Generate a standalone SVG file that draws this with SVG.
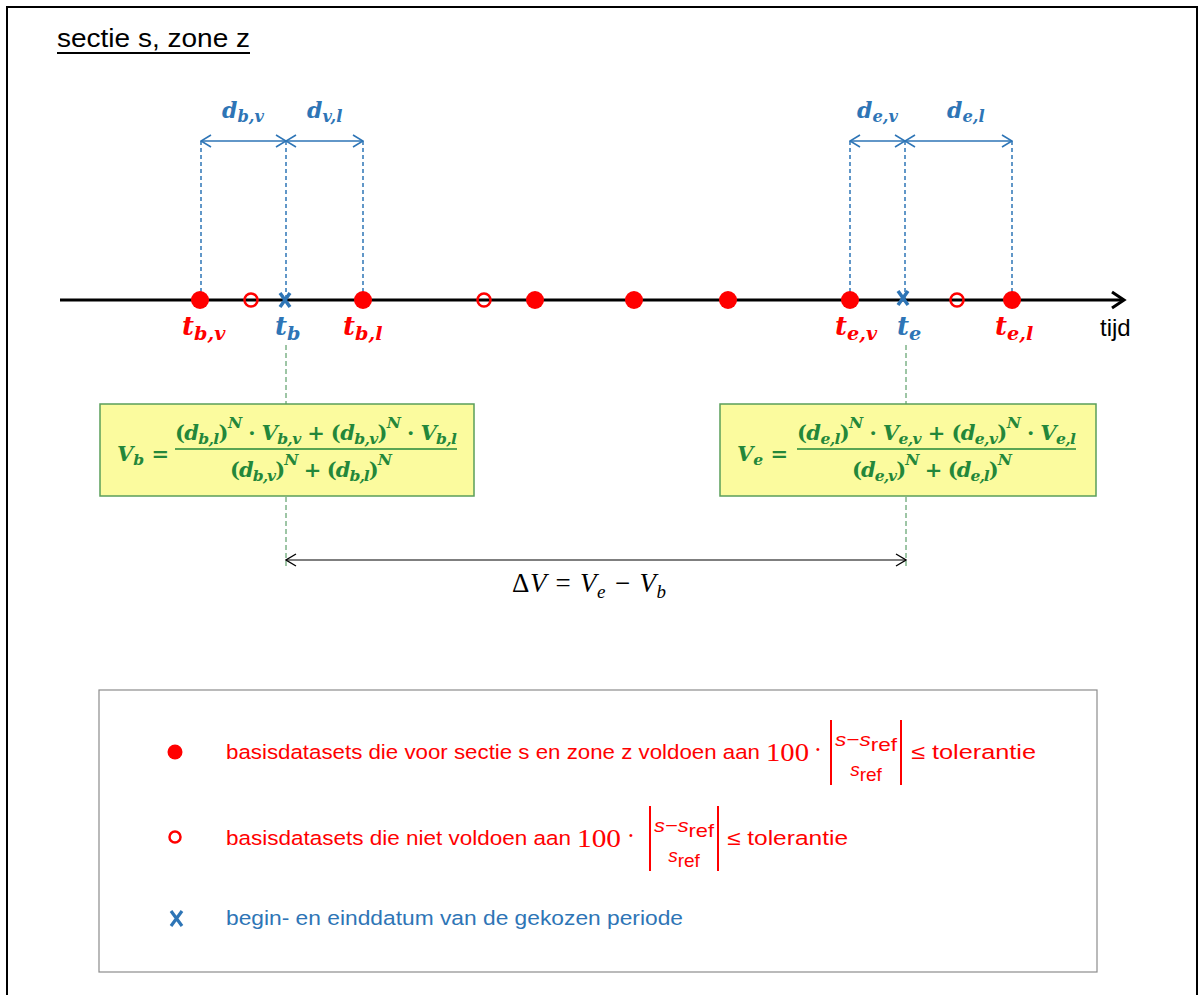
<svg xmlns="http://www.w3.org/2000/svg" width="1201" height="995" viewBox="0 0 1201 995">
<style>
.m{font-family:"DejaVu Serif","Liberation Serif",serif;font-style:italic;font-weight:bold}
.u{font-style:normal}
.s{font-size:0.74em}
.blue{fill:#2e75b6}
.red{fill:#ff0000}
.grn{fill:#23873a}
.sans{font-family:"Liberation Sans","Open Sans",sans-serif}
.num{font-family:"Liberation Serif","DejaVu Serif",serif}
.dashb{stroke:#2e75b6;stroke-width:1.5;stroke-dasharray:4 3;fill:none}
.dashg{stroke:#3c8c4c;stroke-width:1;stroke-dasharray:5 3;fill:none}
.dot{fill:#ff0000}
.ring{fill:none;stroke:#ff0000;stroke-width:2.5}
.xm{stroke:#2e75b6;stroke-width:3.5;stroke-linecap:butt}
.box{fill:#fbfb9e;stroke:#5a9e5a;stroke-width:1.5}
.bar{stroke:#ff0000;stroke-width:2}
</style>
<defs>
<marker id="ab" viewBox="0 0 12 14" refX="11" refY="7" markerWidth="12" markerHeight="14" markerUnits="userSpaceOnUse" orient="auto-start-reverse">
<path d="M1,1 L11,7 L1,13" fill="none" stroke="#2e75b6" stroke-width="1.6"/>
</marker>
<marker id="ak" viewBox="0 0 12 14" refX="11" refY="7" markerWidth="12" markerHeight="14" markerUnits="userSpaceOnUse" orient="auto-start-reverse">
<path d="M1,1 L11,7 L1,13" fill="none" stroke="#000" stroke-width="1.3"/>
</marker>
</defs>
<rect x="0" y="0" width="1201" height="995" fill="#fff"/>
<rect x="7" y="7" width="1190" height="1010" fill="none" stroke="#000" stroke-width="2"/>

<g id="title">
<text x="57" y="47" class="sans" font-size="26" fill="#000" textLength="193" lengthAdjust="spacingAndGlyphs">sectie s, zone z</text>
<line x1="57" y1="53" x2="250" y2="53" stroke="#000" stroke-width="2.2"/>
</g>

<g id="connectors">
<line class="dashb" x1="201" y1="141" x2="201" y2="300"/>
<line class="dashb" x1="286" y1="141" x2="286" y2="300"/>
<line class="dashb" x1="363" y1="141" x2="363" y2="300"/>
<line class="dashb" x1="850" y1="141" x2="850" y2="300"/>
<line class="dashb" x1="905" y1="141" x2="905" y2="300"/>
<line class="dashb" x1="1012" y1="141" x2="1012" y2="300"/>
<line x1="201" y1="141" x2="286" y2="141" stroke="#2e75b6" stroke-width="1.5" marker-start="url(#ab)" marker-end="url(#ab)"/>
<line x1="286" y1="141" x2="363" y2="141" stroke="#2e75b6" stroke-width="1.5" marker-start="url(#ab)" marker-end="url(#ab)"/>
<line x1="850" y1="141" x2="905" y2="141" stroke="#2e75b6" stroke-width="1.5" marker-start="url(#ab)" marker-end="url(#ab)"/>
<line x1="905" y1="141" x2="1012" y2="141" stroke="#2e75b6" stroke-width="1.5" marker-start="url(#ab)" marker-end="url(#ab)"/>
<line class="dashg" x1="286" y1="345" x2="286" y2="568"/>
<line class="dashg" x1="906" y1="345" x2="906" y2="568"/>
<line x1="286" y1="560" x2="906" y2="560" stroke="#000" stroke-width="1.2" marker-start="url(#ak)" marker-end="url(#ak)"/>
<line x1="60" y1="300" x2="1123" y2="300" stroke="#000" stroke-width="3"/>
<path d="M1112,292 L1124,300 L1112,308" fill="none" stroke="#000" stroke-width="3"/>
</g>

<g id="dim-labels">
<text class="m blue" x="222" y="118" font-size="22">d<tspan class="s" dy="4">b,v</tspan></text>
<text class="m blue" x="307" y="118" font-size="22">d<tspan class="s" dy="4">v,l</tspan></text>
<text class="m blue" x="857" y="118" font-size="22">d<tspan class="s" dy="4">e,v</tspan></text>
<text class="m blue" x="947" y="118" font-size="22">d<tspan class="s" dy="4">e,l</tspan></text>
</g>

<g id="points">
<circle class="dot" cx="200" cy="300" r="9"/>
<circle class="ring" cx="251" cy="300" r="6.5"/>
<path class="xm" d="M280,293 L290,307 M290,293 L280,307"/>
<circle class="dot" cx="363" cy="300" r="9"/>
<circle class="ring" cx="484" cy="300" r="6.5"/>
<circle class="dot" cx="535" cy="300" r="9"/>
<circle class="dot" cx="634" cy="300" r="9"/>
<circle class="dot" cx="728" cy="300" r="9"/>
<circle class="dot" cx="850" cy="300" r="9"/>
<path class="xm" d="M898,291 L908,305 M908,291 L898,305"/>
<circle class="ring" cx="957" cy="300" r="6.5"/>
<circle class="dot" cx="1012" cy="300" r="9"/>
</g>

<g id="axis-labels">
<text class="m red" x="182" y="335" font-size="26">t<tspan class="s" dy="5">b,v</tspan></text>
<text class="m blue" x="275" y="335" font-size="26">t<tspan class="s" dy="5">b</tspan></text>
<text class="m red" x="343" y="335" font-size="26">t<tspan class="s" dy="5">b,l</tspan></text>
<text class="m red" x="835" y="335" font-size="26">t<tspan class="s" dy="5">e,v</tspan></text>
<text class="m blue" x="897" y="335" font-size="26">t<tspan class="s" dy="5">e</tspan></text>
<text class="m red" x="995" y="335" font-size="26">t<tspan class="s" dy="5">e,l</tspan></text>
<text class="sans" x="1100" y="336" font-size="24" fill="#000">tijd</text>
</g>

<g id="formula-b">
<rect class="box" x="100" y="404" width="374" height="92"/>
<text class="m grn" x="117" y="461" font-size="21">V<tspan class="s" dy="4">b</tspan><tspan class="u" dy="-4"> =</tspan></text>
<text class="m grn" x="175" y="440" font-size="21" textLength="282" lengthAdjust="spacing"><tspan class="u">(</tspan>d<tspan class="s" dy="4">b,l</tspan><tspan class="u" dy="-4">)</tspan><tspan class="s" dy="-12">N</tspan><tspan class="u" dy="12"> · </tspan>V<tspan class="s" dy="4">b,v</tspan><tspan class="u" dy="-4"> + (</tspan>d<tspan class="s" dy="4">b,v</tspan><tspan class="u" dy="-4">)</tspan><tspan class="s" dy="-12">N</tspan><tspan class="u" dy="12"> · </tspan>V<tspan class="s" dy="4">b,l</tspan></text>
<line x1="175" y1="449" x2="457" y2="449" stroke="#23873a" stroke-width="1.5"/>
<text class="m grn" x="230" y="477" font-size="21" textLength="162" lengthAdjust="spacing"><tspan class="u">(</tspan>d<tspan class="s" dy="4">b,v</tspan><tspan class="u" dy="-4">)</tspan><tspan class="s" dy="-12">N</tspan><tspan class="u" dy="12"> + (</tspan>d<tspan class="s" dy="4">b,l</tspan><tspan class="u" dy="-4">)</tspan><tspan class="s" dy="-12">N</tspan></text>
</g>

<g id="formula-e">
<rect class="box" x="720" y="404" width="376" height="92"/>
<text class="m grn" x="737" y="461" font-size="21">V<tspan class="s" dy="4">e</tspan><tspan class="u" dy="-4"> =</tspan></text>
<text class="m grn" x="797" y="440" font-size="21" textLength="279" lengthAdjust="spacing"><tspan class="u">(</tspan>d<tspan class="s" dy="4">e,l</tspan><tspan class="u" dy="-4">)</tspan><tspan class="s" dy="-12">N</tspan><tspan class="u" dy="12"> · </tspan>V<tspan class="s" dy="4">e,v</tspan><tspan class="u" dy="-4"> + (</tspan>d<tspan class="s" dy="4">e,v</tspan><tspan class="u" dy="-4">)</tspan><tspan class="s" dy="-12">N</tspan><tspan class="u" dy="12"> · </tspan>V<tspan class="s" dy="4">e,l</tspan></text>
<line x1="797" y1="449" x2="1076" y2="449" stroke="#23873a" stroke-width="1.5"/>
<text class="m grn" x="852" y="477" font-size="21" textLength="160" lengthAdjust="spacing"><tspan class="u">(</tspan>d<tspan class="s" dy="4">e,v</tspan><tspan class="u" dy="-4">)</tspan><tspan class="s" dy="-12">N</tspan><tspan class="u" dy="12"> + (</tspan>d<tspan class="s" dy="4">e,l</tspan><tspan class="u" dy="-4">)</tspan><tspan class="s" dy="-12">N</tspan></text>
</g>

<g id="delta-v">
<text x="512" y="592" font-family="Liberation Serif, serif" font-style="italic" font-size="27" fill="#000" textLength="154" lengthAdjust="spacing"><tspan font-style="normal">Δ</tspan>V = V<tspan font-size="19" dy="6">e</tspan><tspan dy="-6"> − V</tspan><tspan font-size="19" dy="6">b</tspan></text>
</g>

<g id="legend">
<rect x="99" y="690" width="998" height="282" fill="none" stroke="#8c8c8c" stroke-width="1.2"/>
<circle cx="175" cy="752" r="7.5" fill="#ff0000"/>
<text class="sans red" x="226" y="759" font-size="20.5" textLength="534" lengthAdjust="spacingAndGlyphs">basisdatasets die voor sectie s en  zone z voldoen aan</text>
<text class="num red" x="766" y="761" font-size="25" textLength="43" lengthAdjust="spacingAndGlyphs">100</text>
<text class="num red" x="818" y="758" font-size="25" text-anchor="middle">·</text>
<line class="bar" x1="831" y1="720" x2="831" y2="785"/>
<line class="bar" x1="901" y1="720" x2="901" y2="785"/>
<text class="sans red" x="866" y="746" font-size="19" text-anchor="middle" textLength="62" lengthAdjust="spacingAndGlyphs"><tspan font-style="italic">s−s</tspan><tspan dy="5">ref</tspan></text>
<text class="sans red" x="866" y="776" font-size="19" text-anchor="middle"><tspan font-style="italic">s</tspan><tspan dy="5">ref</tspan></text>
<text class="sans red" x="911" y="759" font-size="20.5" textLength="125" lengthAdjust="spacingAndGlyphs">≤ tolerantie</text>

<circle cx="175" cy="837" r="5.5" fill="none" stroke="#ff0000" stroke-width="2.5"/>
<text class="sans red" x="226" y="845" font-size="20.5" textLength="345" lengthAdjust="spacingAndGlyphs">basisdatasets die niet voldoen aan</text>
<text class="num red" x="577" y="847" font-size="25" textLength="44" lengthAdjust="spacingAndGlyphs">100</text>
<text class="num red" x="631" y="844" font-size="25" text-anchor="middle">·</text>
<line class="bar" x1="650" y1="806" x2="650" y2="871"/>
<line class="bar" x1="718" y1="806" x2="718" y2="871"/>
<text class="sans red" x="684" y="832" font-size="19" text-anchor="middle" textLength="60" lengthAdjust="spacingAndGlyphs"><tspan font-style="italic">s−s</tspan><tspan dy="5">ref</tspan></text>
<text class="sans red" x="684" y="862" font-size="19" text-anchor="middle"><tspan font-style="italic">s</tspan><tspan dy="5">ref</tspan></text>
<text class="sans red" x="727" y="845" font-size="20.5" textLength="121" lengthAdjust="spacingAndGlyphs">≤ tolerantie</text>

<path d="M171,911 L182,926 M182,911 L171,926" stroke="#2e75b6" stroke-width="3.2"/>
<text class="sans blue" x="226" y="925" font-size="20.5" textLength="457" lengthAdjust="spacingAndGlyphs">begin- en einddatum van de gekozen periode</text>
</g>
</svg>
